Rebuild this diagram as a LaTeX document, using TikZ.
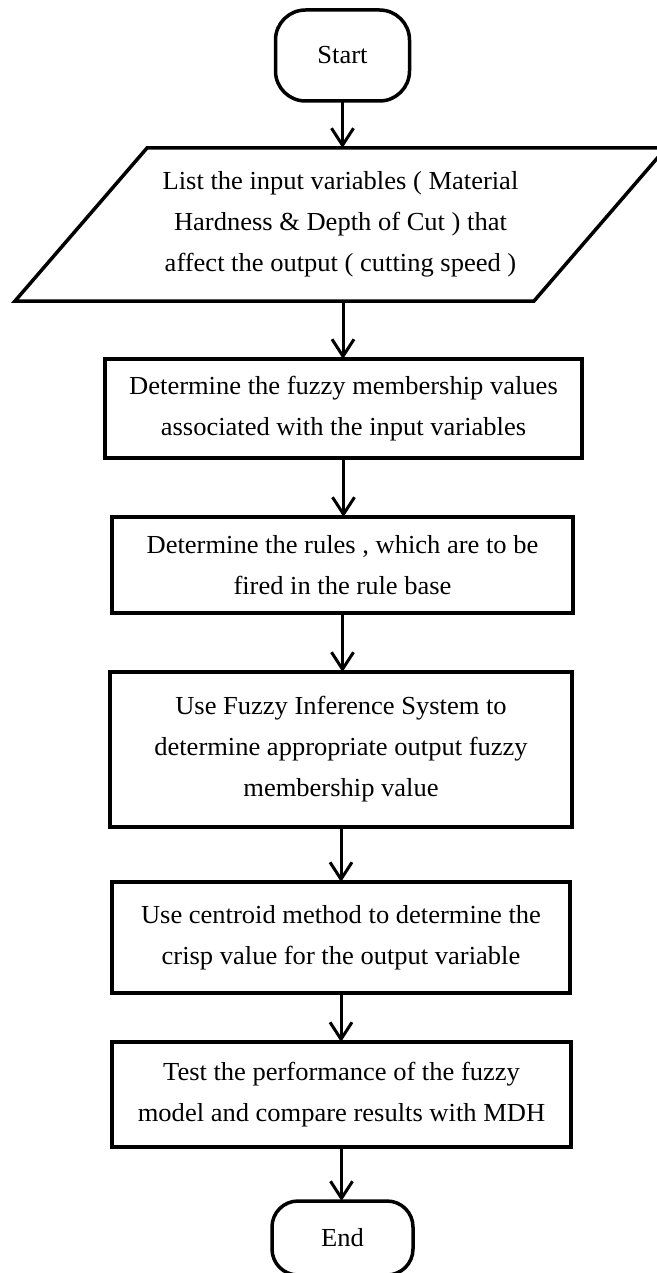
\documentclass[tikz,border=0pt]{standalone}
\usepackage{fontspec}
\setmainfont{Liberation Serif}[FakeStretch=1.02]
\usetikzlibrary{arrows.meta}
\begin{document}
\begin{tikzpicture}[x=1pt,y=-1pt,
  base/.style={draw=black,line width=3.5pt,inner sep=0pt,outer sep=0pt,align=center,
    font={\fontsize{26}{41}\selectfont}},
  procbox/.style={base,rectangle},
  termbox/.style={base,rectangle,rounded corners=30pt},
  txt/.style={inner sep=0pt,outer sep=0pt,align=center,font={\fontsize{26}{41}\selectfont}},
  flow/.style={line width=3pt,-{Straight Barb[length=17pt,width=22pt,line width=3pt]}}]
\useasboundingbox (0,0) rectangle (656,1273);
\fill[white] (0,0) rectangle (656,1273);

\node[termbox,minimum width=134pt,minimum height=91pt] (start) at (342.5,55.5) {Start};

\coordinate (p1) at (147,148);
\coordinate (p2) at (666,148);
\coordinate (p3) at (534,301);
\coordinate (p4) at (15,301);
\draw[line width=3.5pt,line join=miter] (p1) -- (p2) -- (p3) -- (p4) -- cycle;
\coordinate (ptop) at (343,148);
\coordinate (pbot) at (343,301);
\node[txt] (input) at (340.5,224.5) {List the input variables ( Material\\Hardness \& Depth of Cut ) that\\affect the output ( cutting speed )};

\node[procbox,minimum width=477pt,minimum height=99pt] (b1) at (343.5,408.5)
  {Determine the fuzzy membership values\\associated with the input variables};
\node[procbox,minimum width=461pt,minimum height=96pt] (b2) at (342.5,565)
  {Determine the rules , which are to be\\fired in the rule base};
\node[procbox,minimum width=462pt,minimum height=155pt] (b3) at (341,749.5)
  {Use Fuzzy Inference System to\\determine appropriate output fuzzy\\membership value};
\node[procbox,minimum width=458pt,minimum height=111pt] (b4) at (341,937.5)
  {Use centroid method to determine the\\crisp value for the output variable};
\node[procbox,minimum width=459pt,minimum height=105pt] (b5) at (341.5,1094.5)
  {Test the performance of the fuzzy\\model and compare results with MDH};
\node[termbox,minimum width=141pt,minimum height=74pt,rounded corners=26pt] (end) at (342.5,1238) {End};

\draw[flow] (start.south) -- (start.south |- ptop);
\draw[flow] (pbot) -- (pbot |- b1.north);
\draw[flow] (b1.south) -- (b1.south |- b2.north);
\draw[flow] (b2.south) -- (b2.south |- b3.north);
\draw[flow] (b3.south) -- (b3.south |- b4.north);
\draw[flow] (b4.south) -- (b4.south |- b5.north);
\draw[flow] (b5.south) -- (b5.south |- end.north);
\end{tikzpicture}
\end{document}
